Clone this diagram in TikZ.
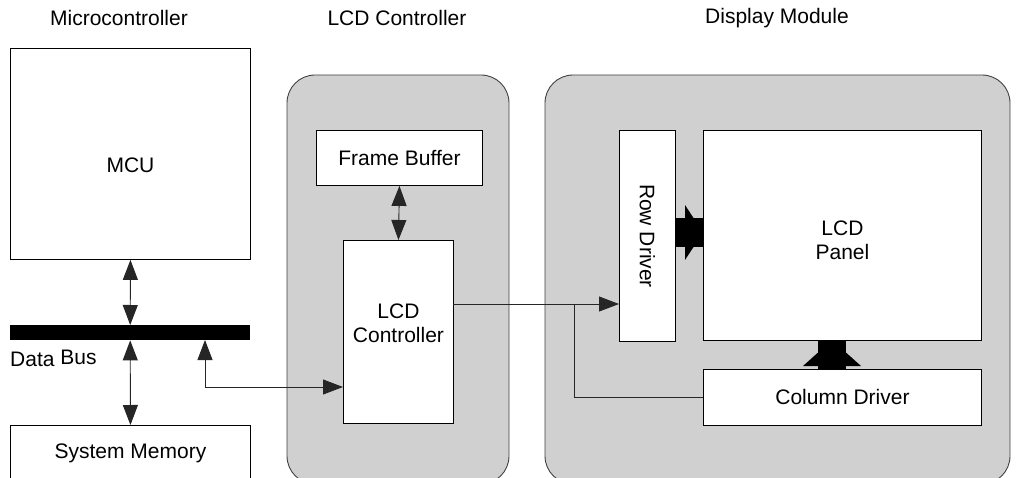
\documentclass[tikz,border=0pt]{standalone}
\usepackage{fontspec}
\setmainfont{Liberation Sans}
\usetikzlibrary{arrows.meta,calc}
\definecolor{panelgray}{HTML}{D0D0D0}
\begin{document}
\begin{tikzpicture}[x=1pt,y=-1pt,
  every node/.style={font=\fontsize{21}{24}\selectfont},
  box/.style={draw=black, line width=0.9pt, fill=white, inner sep=0pt, anchor=north west},
  container/.style={draw=black!75, line width=0.9pt, fill=panelgray, rounded corners=28pt},
  conn/.style={line width=0.9pt, draw=black!85},
  tipend/.style={-{Triangle[length=20pt,width=15pt]}},
  tipboth/.style={{Triangle[length=20pt,width=15pt]}-{Triangle[length=20pt,width=15pt]}},
  txt/.style={align=center, inner sep=0pt}
]
\useasboundingbox (0,0) rectangle (1016,478);
\clip (0,0) rectangle (1016,478);

% titles
\node[txt] (t1) at (119,18) {Microcontroller};
\node[txt] (t2) at (397,18) {LCD Controller};
\node[txt] (t3) at (777,18) {Display Module};

% containers
\draw[container] (287,75) rectangle (509,484);
\draw[container] (545,75) rectangle (1010,484);

% microcontroller side
\node[box, minimum width=240pt, minimum height=211pt] (mcu) at (10,48) {};
\node[txt] (mcut) at ($(mcu.center)+(0,11)$) {MCU};
\node[fill=black, inner sep=0pt, anchor=north west, minimum width=240pt, minimum height=15pt] (bus) at (10,325) {};
\node[box, minimum width=240pt, minimum height=56pt] (sysmem) at (10,425) {};
\node[txt] (sysmemt) at (sysmem.center) {System Memory};
\node[txt, anchor=west] (bust) at (10,358) {Data \raisebox{2pt}{Bus}};

% LCD controller side
\node[box, minimum width=166pt, minimum height=55pt] (fb) at (316,130) {};
\node[txt] (fbt) at (fb.center) {Frame Buffer};
\node[box, minimum width=110pt, minimum height=183pt] (lcdc) at (343,240) {};
\node[txt] (lcdct) at ($(lcdc.center)+(0,-9)$) {LCD\\Controller};

% display module
\node[box, minimum width=56pt, minimum height=211pt] (row) at (619,130) {};
\node[txt, rotate=-90] (rowt) at (row.center) {Row Driver};
\node[box, minimum width=278pt, minimum height=210pt] (panel) at (703,130) {};
\node[txt] (panelt) at ($(panel.center)+(0,5)$) {LCD\\Panel};
\node[box, minimum width=278pt, minimum height=56pt] (col) at (703,369) {};
\node[txt] (colt) at (col.center) {Column Driver};

% fat arrows
\fill (676,218) rectangle (703,247);
\fill (685,205) -- (703,232.5) -- (685,260) -- cycle;
\fill (818,340) rectangle (846,369);
\fill (803,366) -- (832,340) -- (861,366) -- cycle;

% connectors
\draw[conn, tipboth] (mcu.south) -- (bus.north);
\draw[conn, tipboth] (bus.south) -- (sysmem.north);
\draw[conn, tipboth] (fb.south) -- (lcdc.north);
\coordinate (busout) at (205,340);
\coordinate (lcdin) at (343,387);
\draw[conn, tipboth] (busout) |- (lcdin);
\coordinate (lcdout) at (453,304);
\draw[conn, tipend] (lcdout) -- (lcdout -| row.west);
\coordinate (split) at (574,304);
\draw[conn] (split) |- (col.west);
\end{tikzpicture}
\end{document}
